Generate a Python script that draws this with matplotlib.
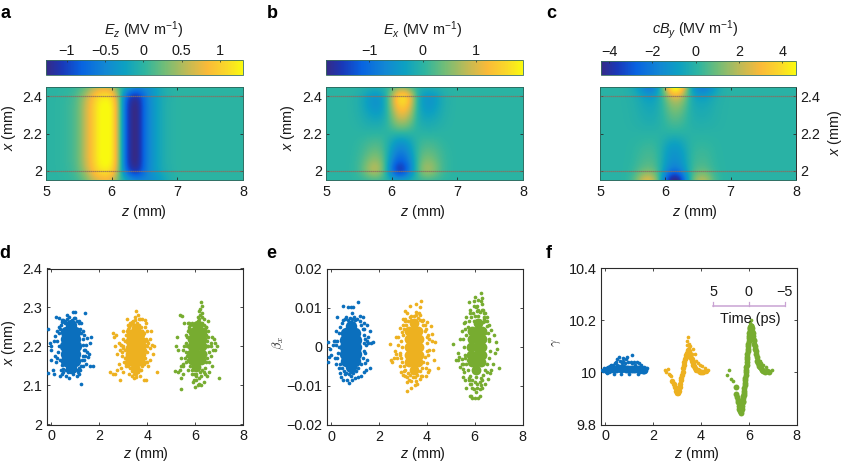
import numpy as np
import matplotlib
matplotlib.use('Agg')
import matplotlib.pyplot as plt
from matplotlib.colors import LinearSegmentedColormap

plt.rcParams['font.family'] = ['Liberation Sans', 'DejaVu Sans']
plt.rcParams['font.size'] = 10.4
plt.rcParams['mathtext.fontset'] = 'custom'
plt.rcParams['mathtext.rm'] = 'Liberation Sans'
plt.rcParams['mathtext.it'] = 'Liberation Sans:italic'
plt.rcParams['mathtext.bf'] = 'Liberation Sans:bold'

W, H = 847, 462

# field maps: rows run from x = 2.45 down to 1.95 in 0.05 steps, columns z = 5.0 ... 7.0 in 0.1 steps
ez_edge = [0, 0, .01, .03, .08, .22, .5, .85, 1.15, 1.25, 1.15, .45, -.65, -1.15, -1.2, -.7, -.4, -.22, -.1, -.04, -.01]
ez_mid = [0, 0, .01, .04, .1, .25, .6, .92, 1.26, 1.33, 1.3, .55, -.75, -1.27, -1.3, -.72, -.42, -.22, -.09, -.03, -.01]
ez_field = [
    [0, 0, 0, 0, .02, .08, .2, .4, .55, .6, .5, .15, -.1, -.3, -.4, -.45, -.35, -.2, -.08, -.02, 0],
    ez_edge, ez_mid, ez_mid, ez_mid, ez_mid, ez_mid, ez_mid, ez_mid, ez_edge,
    [0, 0, 0, .01, .03, .1, .25, .5, .65, .75, .65, .2, -.1, -.35, -.45, -.5, -.45, -.35, -.2, -.08, -.02],
]
ex_field = [
    [0, 0, 0, 0, 0, -.02, -.05, -.08, -.08, 0, .15, .35, .35, .15, -.03, -.08, -.08, -.05, -.02, 0, 0],
    [0, 0, 0, 0, -.03, -.1, -.3, -.5, -.5, -.2, .7, 1.7, 1.85, 1.1, -.1, -.45, -.5, -.35, -.1, -.03, 0],
    [0, 0, 0, 0, -.03, -.1, -.3, -.5, -.55, -.2, .6, 1.4, 1.5, .9, -.1, -.45, -.5, -.3, -.1, -.03, 0],
    [0, 0, 0, 0, -.02, -.08, -.2, -.3, -.35, -.15, .4, 1.0, 1.05, .6, -.1, -.3, -.3, -.2, -.08, -.02, 0],
    [0, 0, 0, 0, -.01, -.04, -.1, -.15, -.15, -.05, .25, .55, .55, .3, -.05, -.15, -.15, -.1, -.04, -.01, 0],
    [0, 0, 0, 0, 0, 0, 0, .02, .02, .02, 0, 0, 0, 0, 0, 0, -.02, 0, 0, 0, 0],
    [0, 0, 0, 0, .01, .05, .12, .18, .2, .05, -.25, -.55, -.5, -.25, .05, .15, .15, .1, .03, .01, 0],
    [0, 0, 0, 0, .02, .08, .2, .35, .35, .1, -.45, -.85, -.8, -.4, .1, .3, .3, .2, .08, .02, 0],
    [0, 0, 0, 0, .03, .12, .35, .6, .6, .15, -.7, -1.2, -1.1, -.6, .15, .5, .5, .3, .1, .03, 0],
    [0, 0, 0, 0, .04, .15, .5, .9, .85, .15, -1.0, -1.8, -1.55, -.7, .2, .75, .75, .4, .12, .03, 0],
    [0, 0, 0, 0, .01, .02, .05, .1, .1, .02, -.15, -.3, -.25, -.1, .02, .08, .08, .05, .01, 0, 0],
]
cby_field = [
    [0, 0, 0, 0, -.1, -.4, -1.1, -2.2, -2.3, -.7, 1.8, 5.4, 5.6, 2.4, -.7, -2.0, -2.3, -1.5, -.6, -.1, 0],
    [0, 0, 0, 0, -.05, -.15, -.4, -.8, -.9, -.4, .8, 2.2, 2.4, 1.2, -.3, -.8, -.8, -.5, -.2, -.05, 0],
    [0, 0, 0, 0, -.03, -.1, -.3, -.5, -.55, -.25, .5, 1.3, 1.4, .7, -.2, -.45, -.45, -.3, -.1, -.03, 0],
    [0, 0, 0, 0, -.02, -.08, -.2, -.35, -.4, -.2, .3, .85, .85, .4, -.15, -.3, -.3, -.2, -.08, -.02, 0],
    [0, 0, 0, 0, -.01, -.05, -.12, -.2, -.22, -.1, .15, .4, .4, .2, -.08, -.15, -.15, -.1, -.05, -.01, 0],
    [0, 0, 0, 0, 0, 0, 0, 0, 0, 0, 0, 0, 0, 0, 0, 0, 0, 0, 0, 0, 0],
    [0, 0, 0, 0, .01, .05, .12, .2, .22, .05, -.4, -.8, -.75, -.35, .05, .15, .15, .1, .03, .01, 0],
    [0, 0, 0, 0, .02, .1, .25, .4, .4, .1, -.7, -1.2, -1.15, -.6, .1, .3, .3, .2, .06, .01, 0],
    [0, 0, 0, 0, .03, .12, .35, .55, .55, .15, -.8, -1.4, -1.35, -.75, .15, .4, .45, .25, .08, .02, 0],
    [0, 0, 0, 0, .05, .2, .6, .9, .9, .2, -1.1, -2.1, -2.0, -1.0, .2, .7, .75, .4, .12, .03, 0],
    [0, 0, 0, 0, .1, .5, 1.7, 2.9, 2.6, .6, -2.5, -5.0, -4.8, -2.2, .5, 2.0, 2.2, 1.1, .3, .06, 0],
]

# x against z
d_blue_z = [0.3, 0.45, 0.65, 0.9, 0.97, 1.42, 0.55, 0.75, 1.0, 1.15, 0.2, -0.15, 1.65, 1.6, 1.5, 1.45, 1.4, 1.52, 1.25, 0.6, 0.75, 1.05, 0.9, 0.35, 0.1, -0.15, 0.05, 0.0, 1.45, 1.75, 1.6, 1.2, 1.3, -0.05, 0.0, 0.1, -0.02, 0.15, 0.2, 0.25, 0.3, 1.3, 1.35, 1.25, 1.4, 1.5, 0.4, 0.5, 0.85, 1.1, 0.15, 1.55, 0.45, 1.15, 1.35,
            0.3, 0.25, 0.28, 0.22, 0.3, 0.35, 0.4, 0.45, 0.5, 0.55, 0.65, 0.75, 0.85, 0.95, 1.05, 1.15, 1.2, 1.25, 1.3, 1.33, 1.35, 1.32, 1.28, 1.22, 1.15, 1.05, 0.95, 0.85, 0.7, 0.6, 0.5, 0.42, 0.35]
d_blue_x = [2.272, 2.268, 2.28, 2.288, 2.288, 2.286, 2.265, 2.275, 2.272, 2.265, 2.275, 2.245, 2.225, 2.21, 2.222, 2.205, 2.19, 2.172, 2.105, 2.125, 2.12, 2.125, 2.13, 2.125, 2.13, 2.132, 2.14, 2.165, 2.155, 2.15, 2.15, 2.14, 2.15, 2.21, 2.2, 2.215, 2.19, 2.175, 2.16, 2.24, 2.25, 2.24, 2.23, 2.26, 2.175, 2.185, 2.14, 2.135, 2.14, 2.135, 2.228, 2.18, 2.13, 2.13, 2.165,
            2.2, 2.215, 2.185, 2.17, 2.235, 2.245, 2.255, 2.262, 2.268, 2.26, 2.27, 2.262, 2.268, 2.272, 2.265, 2.26, 2.245, 2.235, 2.22, 2.205, 2.19, 2.175, 2.165, 2.15, 2.145, 2.14, 2.137, 2.14, 2.135, 2.14, 2.143, 2.152, 2.165]
d_blue_core_z = [0.6, 0.6, 0.58, 0.6, 0.6, 1.0, 1.0, 1.02, 1.0, 1.0, 0.8, 0.8, 0.8, 0.8, 0.8, 0.8, 0.8]
d_blue_core_x = [2.164, 2.182, 2.2, 2.218, 2.236, 2.164, 2.182, 2.2, 2.218, 2.236, 2.146, 2.164, 2.182, 2.2, 2.218, 2.236, 2.254]

d_yellow_z = [3.55, 3.6, 3.7, 3.8, 3.9, 3.95, 3.4, 3.2, 3.15, 3.3, 3.5, 3.65, 2.55, 2.6, 2.7, 3.0, 2.9, 2.65, 2.8, 2.85, 2.75, 3.0, 3.1, 4.1, 4.2, 4.25, 4.1, 4.3, 4.0, 2.45, 2.55, 2.65, 2.75, 2.9, 2.8, 3.0, 3.1, 3.25, 3.35, 3.45, 3.55, 3.7, 3.85, 3.95, 4.4, 3.75, 3.65, 4.05, 3.15, 2.95, 2.85, 3.0, 3.95, 4.1, 4.15, 3.6, 3.3, 3.8, 3.9, 4.0,
              3.0, 2.95, 3.05, 2.9, 3.1, 3.15, 3.2, 3.25, 3.3, 3.35, 3.42, 3.5, 3.58, 3.65, 3.72, 3.8, 3.88, 3.95, 4.0, 3.98, 3.92, 4.02, 3.85, 3.78, 3.7, 3.62, 3.55, 3.45, 3.38, 3.28, 3.2, 3.12, 3.05, 3.08, 3.18, 3.32, 3.48, 3.62, 3.78, 3.9, 3.02, 3.98, 3.4, 3.6, 3.15, 3.85, 3.92, 3.1, 3.25, 3.75]
d_yellow_x = [2.29, 2.28, 2.27, 2.27, 2.268, 2.26, 2.265, 2.255, 2.27, 2.26, 2.275, 2.27, 2.235, 2.225, 2.23, 2.24, 2.205, 2.2, 2.21, 2.19, 2.18, 2.195, 2.17, 2.22, 2.205, 2.18, 2.165, 2.2, 2.24, 2.135, 2.13, 2.13, 2.14, 2.145, 2.155, 2.135, 2.15, 2.13, 2.125, 2.12, 2.122, 2.125, 2.115, 2.115, 2.135, 2.14, 2.155, 2.15, 2.165, 2.175, 2.115, 2.22, 2.16, 2.195, 2.24, 2.245, 2.24, 2.24, 2.25, 2.215,
              2.2, 2.185, 2.215, 2.205, 2.23, 2.24, 2.245, 2.25, 2.255, 2.262, 2.258, 2.268, 2.26, 2.255, 2.25, 2.24, 2.235, 2.22, 2.2, 2.185, 2.17, 2.21, 2.155, 2.15, 2.14, 2.135, 2.13, 2.13, 2.138, 2.145, 2.15, 2.16, 2.17, 2.19, 2.225, 2.24, 2.245, 2.24, 2.225, 2.205, 2.16, 2.16, 2.145, 2.145, 2.175, 2.17, 2.19, 2.155, 2.155, 2.16]
d_yellow_core_z = [3.3, 3.28, 3.28, 3.3, 3.32, 3.7, 3.72, 3.72, 3.72, 3.7, 3.5, 3.5, 3.5, 3.5, 3.5, 3.52, 3.54]
d_yellow_core_x = [2.163, 2.18, 2.197, 2.214, 2.231, 2.163, 2.18, 2.197, 2.214, 2.231, 2.146, 2.163, 2.18, 2.197, 2.214, 2.231, 2.248]

d_green_z = [6.25, 6.3, 6.2, 6.15, 6.3, 6.1, 5.35, 5.45, 5.55, 5.7, 5.75, 5.9, 6.35, 6.45, 6.55, 6.7, 6.8, 6.85, 6.9, 5.25, 5.2, 5.3, 5.4, 5.5, 5.35, 5.4, 5.5, 5.15, 5.3, 5.4, 5.5, 5.6, 5.7, 5.95, 5.85, 5.95, 6.05, 6.15, 6.25, 6.35, 6.5, 6.6, 6.7, 7.0, 6.85, 6.65, 6.6, 6.05, 5.9, 5.85, 5.75, 5.6, 6.5, 6.4, 6.65, 6.75, 6.0, 6.1, 5.4, 6.55,
             5.55, 5.5, 5.6, 5.65, 5.7, 5.75, 5.8, 5.85, 5.9, 5.95, 6.0, 6.1, 6.15, 6.2, 6.3, 6.4, 6.45, 6.5, 6.55, 6.6, 6.5, 6.45, 6.4, 6.35, 6.25, 6.15, 6.05, 5.95, 5.85, 5.8, 5.7, 5.65, 5.6, 5.58, 6.3, 6.35, 6.25, 6.05, 6.15, 6.45, 5.75, 5.9, 6.55, 6.65, 5.68, 6.28, 6.2, 5.95, 6.1, 6.4]
d_green_x = [2.315, 2.305, 2.295, 2.29, 2.285, 2.275, 2.28, 2.278, 2.26, 2.26, 2.26, 2.255, 2.27, 2.25, 2.24, 2.225, 2.22, 2.21, 2.2, 2.225, 2.2, 2.19, 2.17, 2.155, 2.14, 2.15, 2.13, 2.137, 2.135, 2.12, 2.15, 2.16, 2.14, 2.115, 2.13, 2.145, 2.115, 2.105, 2.1, 2.11, 2.125, 2.135, 2.15, 2.12, 2.19, 2.175, 2.16, 2.13, 2.11, 2.235, 2.245, 2.23, 2.2, 2.13, 2.2, 2.19, 2.095, 2.1, 2.092, 2.265,
             2.2, 2.19, 2.21, 2.225, 2.24, 2.25, 2.255, 2.26, 2.24, 2.25, 2.26, 2.265, 2.27, 2.28, 2.26, 2.245, 2.23, 2.215, 2.2, 2.185, 2.17, 2.16, 2.145, 2.135, 2.125, 2.12, 2.125, 2.13, 2.14, 2.15, 2.165, 2.175, 2.185, 2.17, 2.275, 2.255, 2.25, 2.245, 2.255, 2.25, 2.18, 2.155, 2.225, 2.21, 2.2, 2.14, 2.135, 2.145, 2.145, 2.18]
d_green_core_z = [5.85, 5.84, 5.85, 5.87, 5.9, 6.25, 6.27, 6.27, 6.28, 6.3, 6.03, 6.04, 6.05, 6.06, 6.08, 6.1, 6.14]
d_green_core_x = [2.165, 2.182, 2.2, 2.218, 2.236, 2.165, 2.182, 2.2, 2.218, 2.236, 2.147, 2.165, 2.182, 2.2, 2.218, 2.236, 2.254]

# beta_x against z
e_blue_z = [0.5, 0.7, 0.8, 1.1, 0.85, 0.9, 1.3, 1.35, 1.5, 1.6, 1.65, 1.75, 1.5, 1.45, 1.6, 1.4, 1.55, -0.15, -0.15, -0.05, 0.0, 0.1, 0.15, 0.2, 0.3, 0.35, 0.4, 0.5, 0.65, 0.75, 0.8, 0.85, 1.0, 1.1, 1.25, 1.35, 0.25, 0.2, 0.15, 1.45, 0.6, 1.5, 0.05, -0.1, 1.55, 1.4, 0.95, 0.55, 1.2, 1.35,
            0.3, 0.25, 0.28, 0.22, 0.3, 0.35, 0.42, 0.5, 0.58, 0.68, 0.78, 0.88, 0.98, 1.08, 1.18, 1.25, 1.3, 1.35, 1.38, 1.35, 1.3, 1.22, 1.12, 1.02, 0.92, 0.82, 0.72, 0.62, 0.52, 0.42, 0.35, 1.42, 0.18]
e_blue_b = [.0105, .0102, .0102, .0115, .0085, .0102, .0075, .006, .0055, .004, .001, .0012, -.0035, -.006, -.0055, -.0042, .0025, .0012, -.0038, -.0005, -.0022, .0015, -.003, -.0045, -.0055, -.0068, -.0078, -.0085, -.0085, -.0093, -.0075, -.0085, -.008, -.0078, -.0075, -.0065, .0075, .004, .0015, .0005, .0075, .0015, .0005, -.0025, .001, -.0015, .0075, -.007, .0078, .0045,
            0, .0015, -.0015, -.003, .0035, .005, .006, .0068, .0072, .0068, .0074, .0072, .0068, .0072, .0065, .0055, .0045, .003, .001, -.001, -.003, -.0045, -.0055, -.0062, -.0068, -.0065, -.007, -.0068, -.0062, -.0055, -.0045, .002, .0005]
e_blue_core_z = [0.6, 0.58, 0.58, 0.58, 0.6, 1.0, 1.02, 1.02, 1.02, 1.0, 0.8, 0.8, 0.8, 0.8, 0.8, 0.8, 0.8]
e_blue_core_b = [-.0036, -.0018, 0, .0018, .0036, -.0036, -.0018, 0, .0018, .0036, -.0052, -.0036, -.0018, 0, .0018, .0036, .0052]

e_yellow_z = [3.3, 3.55, 3.7, 3.75, 3.15, 3.0, 3.1, 3.35, 3.55, 3.7, 3.85, 4.0, 4.15, 4.2, 4.35, 4.25, 4.05, 4.1, 2.45, 2.5, 2.6, 2.7, 2.75, 2.65, 2.55, 2.85, 2.85, 2.9, 3.0, 3.1, 3.15, 3.35, 3.5, 3.6, 3.7, 3.8, 3.95, 4.05, 4.0, 4.45, 3.95, 2.85, 2.95, 2.8, 2.7, 3.15, 3.1, 4.1, 4.2, 4.3,
              2.95, 2.9, 2.85, 2.92, 3.0, 3.05, 3.12, 3.2, 3.28, 3.35, 3.45, 3.55, 3.62, 3.7, 3.78, 3.85, 3.92, 3.98, 4.02, 3.98, 3.92, 3.85, 3.78, 3.7, 3.6, 3.5, 3.4, 3.3, 3.2, 3.1, 3.02, 2.95, 3.0, 3.1, 3.25, 3.9, 4.05, 3.75, 3.55, 3.35, 4.1, 2.8, 3.15, 3.65, 3.05, 3.95]
e_yellow_b = [.0105, .0108, .0102, .0118, .0085, .0072, .0092, .0078, .0088, .0082, .0068, .0062, .0052, .0032, .0012, -.0008, -.0022, -.006, .0008, -.0035, -.0028, .0025, -.003, -.0012, -.0038, -.005, .0048, -.0065, -.0072, -.0075, -.0112, -.0105, -.0098, -.0095, -.0082, -.0075, -.0075, -.0065, -.0042, -.0055, .0045, -.0022, .0038, .0005, -.0018, -.009, .0065, -.0008, .0015, -.0035,
              0, .0015, -.0015, -.003, .003, .0045, .0055, .0065, .0075, .0068, .0078, .0082, .0074, .0068, .0065, .0055, .004, .0025, .001, -.001, -.0025, -.004, -.0055, -.0062, -.0072, -.0078, -.0078, -.0072, -.0068, -.006, -.005, -.004, .0055, .0072, -.0085, .0055, .003, -.0075, -.0088, -.0088, .002, .0025, -.0078, .0085, -.0062, -.0055]
e_yellow_core_z = [3.26, 3.24, 3.24, 3.24, 3.26, 3.64, 3.66, 3.66, 3.66, 3.64, 3.45, 3.45, 3.45, 3.45, 3.45, 3.45, 3.45]
e_yellow_core_b = [-.004, -.002, 0, .002, .004, -.004, -.002, 0, .002, .004, -.006, -.004, -.002, 0, .002, .004, .006]

e_green_z = [6.25, 6.3, 5.75, 6.0, 6.3, 6.15, 6.35, 6.45, 5.95, 5.8, 5.65, 5.55, 6.5, 6.6, 6.7, 6.8, 6.9, 6.95, 5.1, 5.2, 5.3, 5.35, 5.45, 5.5, 5.4, 5.5, 5.55, 5.6, 5.65, 5.8, 5.9, 6.0, 6.15, 6.2, 6.3, 6.45, 6.55, 6.65, 6.75, 5.45, 5.8, 5.85, 6.2, 7.0, 6.7, 6.6, 5.4, 5.5, 6.05, 5.95, 6.25, 6.4, 5.3, 5.45, 5.6, 6.85, 5.95, 6.1, 5.75, 6.5,
             5.55, 5.5, 5.6, 5.65, 5.7, 5.78, 5.85, 5.92, 6.0, 6.08, 6.15, 6.22, 6.3, 6.38, 6.45, 6.5, 6.55, 6.6, 6.62, 6.58, 6.5, 6.42, 6.35, 6.28, 6.2, 6.1, 6.0, 5.9, 5.82, 5.72, 5.65, 5.58, 5.6, 5.75, 5.9, 6.1, 6.25, 6.4, 6.05, 5.95, 6.3, 6.15, 5.7, 6.5, 5.8, 6.35, 6.05, 6.2, 5.85, 6.45]
e_green_b = [.0138, .0125, .0115, .0128, .011, .012, .0095, .0085, .0105, .0095, .0075, .006, .0065, .0055, .0042, .003, .0012, -.0005, .0008, -.0035, -.0035, -.0025, -.0032, -.0045, -.0052, -.0058, -.0065, -.0085, -.0105, -.0125, -.0132, -.013, -.0132, -.0108, -.0105, -.0095, -.0082, -.0068, -.0045, .004, -.0095, -.0125, -.0125, -.0055, -.006, .002, .002, -.0078, -.0115, -.0108, .0118, .0072, -.0015, -.0045, .0062, -.0015, .0118, .0105, -.0085, .0075,
             0, .002, -.002, .003, .005, .0065, .0075, .0085, .0078, .0092, .0095, .0088, .0095, .0075, .0065, .0052, .0035, .0015, -.001, -.003, -.0045, -.006, -.0072, -.008, -.009, -.0095, -.009, -.0085, -.0075, -.006, -.0045, -.003, .0045, -.008, -.0105, -.0105, -.0098, .0085, .0102, .0065, -.0085, .0078, -.0035, -.0065, .0085, .0062, -.0078, .0065, -.0095, .0035]
e_green_core_z = [5.88, 5.86, 5.85, 5.87, 5.9, 6.28, 6.3, 6.3, 6.3, 6.3, 6.05, 6.06, 6.08, 6.08, 6.1, 6.1, 6.12]
e_green_core_b = [-.004, -.002, 0, .002, .004, -.004, -.002, 0, .002, .004, -.006, -.004, -.002, 0, .002, .004, .006]

# gamma against z
f_blue_z = [-0.15, -0.1, -0.05, 0.0, 0.05, 0.1, 0.2, 0.25, 0.3, 0.4, 0.45, 0.5, 0.5, 0.55, 0.6, 0.7, 0.72, 0.75, 0.8, 0.85, 0.9, 0.95, 1.05, 1.1, 1.1, 1.2, 1.25, 1.3, 1.4, 1.5, 1.55, 1.6, 1.65, 1.7, 1.75, 0.15, 0.35, 0.65, 1.0, 1.35, 1.45]
f_blue_y = [10.01, 10.005, 10.015, 10.012, 9.998, 10.02, 10.025, 10.03, 10.028, 10.034, 10.04, 10.052, 10.03, 10.058, 10.045, 10.035, 10.055, 10.045, 10.035, 10.05, 10.06, 10.04, 10.04, 10.035, 10.066, 10.04, 10.03, 10.04, 10.035, 10.03, 10.015, 10.02, 10.01, 10.015, 10.018, 10.0, 9.995, 9.992, 9.993, 9.995, 10.0]
f_blue_core_z = [0.05, 0.15, 0.25, 0.35, 0.45, 0.55, 0.65, 0.75, 0.85, 0.95, 1.05, 1.15, 1.25, 1.35, 1.45, 1.55, 1.63]
f_blue_core_y = [10.01, 10.011, 10.012, 10.013, 10.014, 10.015, 10.014, 10.015, 10.014, 10.014, 10.014, 10.014, 10.013, 10.012, 10.012, 10.01, 10.01]

f_yellow_trail_z = [2.8, 2.85, 2.9, 2.95, 3.0, 3.03, 3.07, 3.1, 3.13, 3.15, 3.18, 3.2, 3.23, 3.25, 3.28, 3.3, 3.33, 3.35, 3.38, 3.4, 3.45, 3.48, 3.5, 3.53, 3.55, 3.58, 3.6, 3.63, 3.65, 3.68, 3.7, 3.75, 3.8, 3.85, 3.9, 3.95, 4.0, 4.05, 4.1, 4.2]
f_yellow_trail_y = [9.965, 9.955, 9.945, 9.93, 9.92, 9.92, 9.93, 9.945, 9.955, 9.97, 9.98, 9.99, 10.0, 10.015, 10.028, 10.04, 10.05, 10.06, 10.068, 10.075, 10.085, 10.08, 10.075, 10.07, 10.062, 10.055, 10.05, 10.043, 10.037, 10.03, 10.025, 10.018, 10.01, 10.01, 10.005, 10.003, 10.0, 10.0, 10.0, 10.005]
f_yellow_z = [2.5, 2.55, 2.6, 2.65, 2.7, 2.75, 4.3, 3.45, 3.4, 3.5, 3.55, 3.65, 3.75, 3.85, 3.95, 4.05, 4.15, 3.42, 3.48, 3.6, 3.8]
f_yellow_y = [10.01, 10.0, 10.012, 9.995, 9.99, 9.985, 10.01, 10.135, 10.12, 10.11, 10.1, 10.09, 10.07, 10.035, 10.03, 10.025, 10.015, 10.105, 10.095, 10.07, 10.045]

f_green_trail_z = [5.44, 5.47, 5.5, 5.53, 5.55, 5.58, 5.6, 5.63, 5.65, 5.68, 5.7, 5.72, 5.74, 5.75, 5.76, 5.77, 5.78, 5.79, 5.8, 5.81, 5.82, 5.83, 5.84, 5.85, 5.86, 5.87, 5.88, 5.89, 5.9, 5.91, 5.92, 5.93, 5.94, 5.95, 5.96, 5.97, 5.98, 5.99, 6.0, 6.01, 6.02, 6.03, 6.04, 6.05, 6.06, 6.07, 6.09, 6.1, 6.12, 6.14, 6.16, 6.18, 6.2, 6.22, 6.24, 6.26, 6.28, 6.3, 6.32, 6.35, 6.38, 6.42, 6.46, 6.5, 6.55, 6.6, 6.68, 6.76, 6.85]
f_green_trail_y = [9.944, 9.918, 9.905, 9.895, 9.885, 9.87, 9.86, 9.85, 9.845, 9.85, 9.86, 9.87, 9.885, 9.892, 9.9, 9.908, 9.915, 9.922, 9.93, 9.94, 9.95, 9.96, 9.97, 9.98, 9.99, 10.0, 10.01, 10.02, 10.03, 10.04, 10.05, 10.06, 10.07, 10.08, 10.09, 10.1, 10.11, 10.12, 10.13, 10.14, 10.15, 10.158, 10.165, 10.17, 10.175, 10.178, 10.178, 10.175, 10.17, 10.16, 10.15, 10.14, 10.125, 10.11, 10.1, 10.09, 10.08, 10.07, 10.06, 10.045, 10.035, 10.025, 10.02, 10.015, 10.01, 10.005, 10.0, 10.005, 10.0]
f_green_z = [5.1, 5.17, 5.24, 5.35, 6.97, 6.4, 6.5, 6.6, 6.7, 6.1, 6.05, 6.15, 6.25, 6.3, 6.45]
f_green_y = [9.99, 10.008, 9.975, 9.966, 10.01, 10.05, 10.035, 10.03, 10.02, 10.2, 10.19, 10.18, 10.12, 10.095, 10.045]

z_ticks_scatter = [0, 2, 4, 6, 8]
time_labels = ['5', '0', '\u22125']
time_z = [4.5, 6.0, 7.5]

parula = LinearSegmentedColormap.from_list('parula', [
    (0.00, (0.208, 0.166, 0.529)),
    (0.08, (0.10, 0.22, 0.72)),
    (0.18, (0.03, 0.39, 0.88)),
    (0.30, (0.07, 0.53, 0.83)),
    (0.40, (0.05, 0.63, 0.76)),
    (0.50, (0.18, 0.71, 0.63)),
    (0.60, (0.44, 0.74, 0.47)),
    (0.72, (0.76, 0.73, 0.33)),
    (0.82, (0.98, 0.73, 0.22)),
    (0.92, (0.98, 0.85, 0.16)),
    (1.00, (0.98, 0.98, 0.06)),
])

BLUE = '#0b6fbd'
YELLOW = '#edb120'
GREEN = '#77ac30'
DARK = '#2b2b2b'
TEXT = '#1a1a1a'

fig = plt.figure(figsize=(W / 100, H / 100), dpi=100)


def box(left, top, right, bottom):
    return [left / W, 1 - bottom / H, (right - left) / W, (bottom - top) / H]


def put(x, y, s, **kw):
    kw.setdefault('ha', 'center')
    kw.setdefault('va', 'center')
    kw.setdefault('color', TEXT)
    return fig.text(x / W, 1 - y / H, s, **kw)


def style(ax, color=DARK, lw=0.8):
    ax.tick_params(direction='in', length=2, width=0.6, top=True, right=True, color=DARK,
                   labelcolor=TEXT)
    ax.tick_params(axis='x', pad=3.5)
    ax.tick_params(axis='y', pad=3)
    for s in ax.spines.values():
        s.set_linewidth(lw)
        s.set_color(color)


def field_panel(pos, cb_pos, field, vmin, vmax, cb_ticks, cb_labels, right_axis=False):
    ax = fig.add_axes(box(*pos))
    data = np.hstack([np.array(field), np.zeros((11, 10))])
    im = ax.imshow(data, cmap=parula, vmin=vmin, vmax=vmax, aspect='auto', origin='upper',
                   interpolation='bicubic', extent=[4.95, 8.05, 1.925, 2.475])
    ax.set_xlim(5, 8)
    ax.set_ylim(1.95, 2.45)
    ax.set_xticks([5, 6, 7, 8])
    ax.set_yticks([2, 2.2, 2.4])
    ax.set_yticklabels(['2', '2.2', '2.4'])
    style(ax, color='#2c6e62', lw=0.7)
    if right_axis:
        ax.tick_params(labelleft=False, labelright=True)
        ax.spines['right'].set_color(DARK)
    for level in [2.0, 2.4]:
        ax.axhline(level, color='#8f6a5c', lw=0.9, ls=(0, (1, 0.6)))

    cax = fig.add_axes(box(*cb_pos))
    cb = fig.colorbar(im, cax=cax, orientation='horizontal')
    cb.set_ticks(cb_ticks)
    cb.set_ticklabels(cb_labels)
    cax.xaxis.set_ticks_position('top')
    cax.tick_params(direction='in', length=1.5, width=0.5, color=DARK, labelcolor=TEXT, pad=1.5)
    cb.outline.set_linewidth(0.6)
    cb.outline.set_edgecolor('#3a6e60')
    return ax


def scatter_panel(pos, ylim, yticks, ylabels, clouds):
    ax = fig.add_axes(box(*pos))
    for z, v, color, core_z, core_v, core_s in clouds:
        ax.scatter(core_z, core_v, s=core_s, color=color, linewidths=0, zorder=2)
        ax.scatter(z, v, s=7, color=color, linewidths=0, zorder=3)
    ax.set_xlim(-0.2, 8)
    ax.set_ylim(*ylim)
    ax.set_xticks(z_ticks_scatter)
    ax.set_yticks(yticks)
    ax.set_yticklabels(ylabels)
    style(ax)
    return ax


field_panel((46, 87, 243, 180), (46, 60, 243, 75), ez_field, -1.27, 1.30,
            [-1, -0.5, 0, 0.5, 1], ['\u22121', '\u22120.5', '0', '0.5', '1'])
field_panel((326, 87, 523, 180), (326, 60, 523, 75), ex_field, -1.81, 1.88,
            [-1, 0, 1], ['\u22121', '0', '1'])
field_panel((600, 87, 796, 180), (601, 61, 796, 75), cby_field, -4.38, 4.64,
            [-4, -2, 0, 2, 4], ['\u22124', '\u22122', '0', '2', '4'], right_axis=True)

scatter_panel((46.7, 268.5, 243, 424.5), (2, 2.4), [2, 2.1, 2.2, 2.3, 2.4],
              ['2', '2.1', '2.2', '2.3', '2.4'], [
    (d_blue_z, d_blue_x, BLUE, d_blue_core_z, d_blue_core_x, 68),
    (d_yellow_z, d_yellow_x, YELLOW, d_yellow_core_z, d_yellow_core_x, 50),
    (d_green_z, d_green_x, GREEN, d_green_core_z, d_green_core_x, 50),
])
scatter_panel((326.7, 268.5, 522.5, 425), (-0.02, 0.02), [-0.02, -0.01, 0, 0.01, 0.02],
              ['\u22120.02', '\u22120.01', '0', '0.01', '0.02'], [
    (e_blue_z, e_blue_b, BLUE, e_blue_core_z, e_blue_core_b, 68),
    (e_yellow_z, e_yellow_b, YELLOW, e_yellow_core_z, e_yellow_core_b, 50),
    (e_green_z, e_green_b, GREEN, e_green_core_z, e_green_core_b, 50),
])
ax_f = scatter_panel((600.7, 268, 796.7, 424.5), (9.8, 10.4), [9.8, 10, 10.2, 10.4],
                     ['9.8', '10', '10.2', '10.4'], [
    (f_blue_z, f_blue_y, BLUE, f_blue_core_z, f_blue_core_y, 32),
    (f_yellow_z, f_yellow_y, YELLOW, f_yellow_trail_z, f_yellow_trail_y, 16),
    (f_green_z, f_green_y, GREEN, f_green_trail_z, f_green_trail_y, 18),
])

# time axis drawn inside panel f
ax_f.plot([time_z[0], time_z[-1]], [10.255, 10.255], color='#c9a3d3', lw=1.1, zorder=4)
for tz, label in zip(time_z, time_labels):
    ax_f.plot([tz, tz], [10.255, 10.27], color='#c9a3d3', lw=0.9, zorder=4)
    ax_f.text(tz, 10.307, label, ha='center', va='center', color=TEXT, zorder=5)
ax_f.text(6.04, 10.205, 'Time (ps)', ha='center', va='center', color=TEXT, zorder=5)

# panel letters
for x, y, s in [(5, 14, 'a'), (272, 14, 'b'), (551, 14, 'c'), (5, 253, 'd'), (271, 253, 'e'), (549, 253, 'f')]:
    put(x, y, s, fontsize=13, fontweight='bold', color='black')

# colour bar titles
put(144, 30, r'$E_z$ (MV m$^{-1}$)')
put(423, 30, r'$E_x$ (MV m$^{-1}$)')
put(695, 30, r'$cB_y$ (MV m$^{-1}$)')

# axis labels
for x, y in [(144, 212), (423, 212), (695, 212), (146, 454), (423, 454), (697, 454)]:
    put(x, y, r'$z$ (mm)')
for x, y in [(9, 128), (288, 128), (835, 133), (9, 343)]:
    put(x, y, r'$x$ (mm)', rotation=90)
put(278, 343, r'$\beta_x$', rotation=90, fontsize=9, math_fontfamily='cm')
put(557, 343, r'$\gamma$', rotation=90, fontsize=9, math_fontfamily='cm')

fig.savefig('out.png', dpi=100)
